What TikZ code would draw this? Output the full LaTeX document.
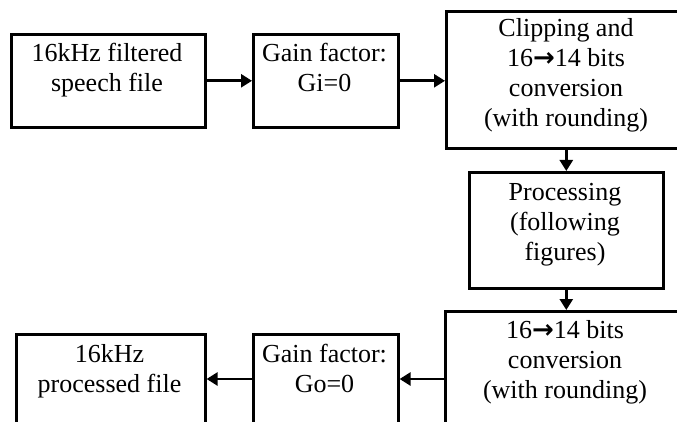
\documentclass[tikz,border=0pt]{standalone}
\usepackage{fontspec}
\setmainfont{Liberation Serif}
\newfontfamily\arrowfont{DejaVu Sans}
\newcommand{\myarr}{{\arrowfont\bfseries →}}
\usetikzlibrary{arrows.meta}
\begin{document}
\begin{tikzpicture}[x=1pt,y=-1pt,
 box/.style={draw, line width=2.6pt, inner sep=0pt, anchor=north west},
 lbl/.style={align=center, anchor=base, inner sep=0pt, font=\fontsize{26}{30}\selectfont},
 conn/.style={line width=2.6pt, -{Triangle[length=11pt,width=13pt]}}]
\useasboundingbox (0,0) rectangle (677,422);
\clip (0,0) rectangle (677,422);
\node[box, minimum width=194pt, minimum height=93pt] (b1) at (10,33) {};
\node[box, minimum width=145pt, minimum height=93pt] (b2) at (252,33) {};
\node[box, minimum width=260pt, minimum height=137pt] (b3) at (445,10) {};
\node[box, minimum width=194pt, minimum height=116pt] (proc) at (468,171) {};
\node[box, minimum width=260pt, minimum height=130pt] (d3) at (444,310) {};
\node[box, minimum width=145pt, minimum height=110pt] (d2) at (252,333) {};
\node[box, minimum width=189pt, minimum height=110pt] (d1) at (15,333) {};
\node[lbl] (t1) at (107,92) {16kHz filtered\\speech file};
\node[lbl] (t2) at (324.5,92) {Gain factor:\\Gi=0};
\node[lbl] (t3) at (566,127) {Clipping and\\16\myarr14 bits\\conversion\\(with rounding)};
\node[lbl] (tp) at (565,260) {Processing\\(following\\figures)};
\node[lbl] (td3) at (565,398) {16\myarr14 bits\\conversion\\(with rounding)};
\node[lbl] (td2) at (324.5,392) {Gain factor:\\Go=0};
\node[lbl] (td1) at (109.5,392) {16kHz\\processed file};
\coordinate (ay) at (0,379);
\draw[conn] (b1) -- (b2);
\draw[conn] (b2.east) -- (b2.east -| b3.west);
\draw[conn] (b3.south -| proc.north) -- (proc.north);
\draw[conn] (proc.south) -- (proc.south |- d3.north);
\draw[conn] (d3.west |- ay) -- (d2.east |- ay);
\draw[conn] (d2.west |- ay) -- (d1.east |- ay);
\end{tikzpicture}
\end{document}
